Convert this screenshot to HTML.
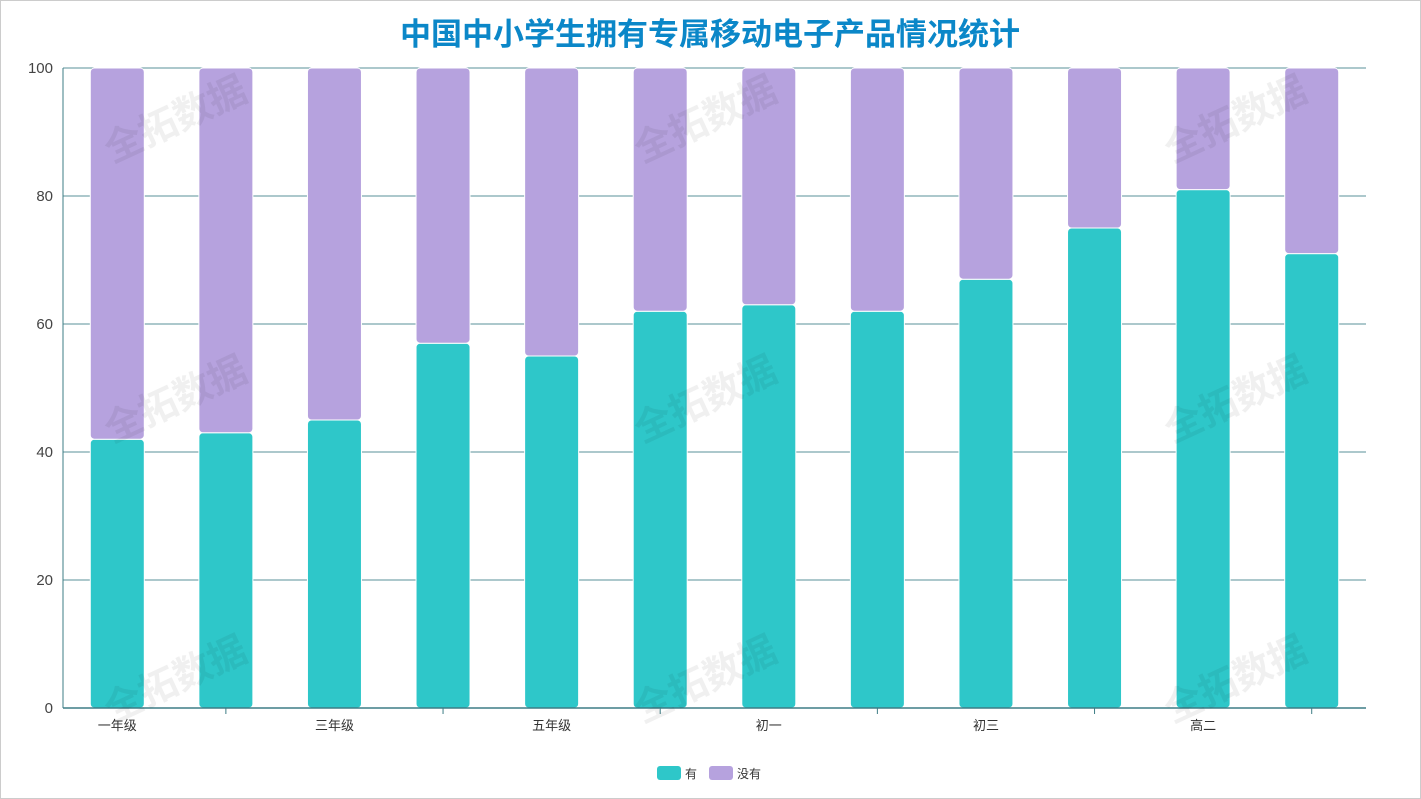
<!DOCTYPE html>
<html><head><meta charset="utf-8"><style>
body{margin:0;background:#fff;}
#wrap{position:relative;width:1419px;height:797px;border:1px solid #ccc;overflow:hidden;font-family:"Liberation Sans","Noto Sans CJK SC",sans-serif;}
</style></head><body>
<div id="wrap">
<svg id="chart" width="1419" height="797"></svg>
</div>
<script>
const categories=["一年级","二年级","三年级","四年级","五年级","六年级","初一","初二","初三","高一","高二","高三"];
const hasValues=[42,43,45,57,55,62,63,62,67,75,81,71];
const noValues=[58,57,55,43,45,38,37,38,33,25,19,29];
const yTicks=[0,20,40,60,80,100];
const seriesNames=["有","没有"];
const NS="http://www.w3.org/2000/svg";
const svg=document.getElementById('chart');
const L=62,R=1365,T=67,B=707;
const bw=(R-L)/categories.length;
const x=i=>L+bw*i;
const y=v=>B-(v/100)*(B-T);
function mk(tag,attrs,parent){const e=document.createElementNS(NS,tag);for(const k in attrs)e.setAttribute(k,attrs[k]);(parent||svg).appendChild(e);return e;}
const title=mk('text',{x:709,y:44,'text-anchor':'middle','font-size':31,'font-weight':'bold',fill:'#0b87c8','font-family':'"Liberation Sans","Noto Sans CJK SC",sans-serif'});
title.textContent='中国中小学生拥有专属移动电子产品情况统计';


yTicks.forEach(t=>{
 const g=mk('line',{x1:L,x2:R,y1:y(t),y2:y(t),stroke:'#5a9098','stroke-width':1});
 
 
 const tx=mk('text',{x:L-10,y:y(t)+5,'text-anchor':'end','font-size':15,fill:'#444'});
 tx.textContent=t;
 
 
});
const yax=mk('line',{x1:L,x2:L,y1:T,y2:B,stroke:'#3d7d85'});


categories.forEach((c,i)=>{
 const bx=x(i)+bw/2-27;
 const b1=mk('rect',{x:bx,y:y(hasValues[i]),width:54,height:y(0)-y(hasValues[i]),rx:4,fill:'#2ec7c9',stroke:'#fff','stroke-width':1});
 
 
 const top=hasValues[i]+noValues[i];
 const b2=mk('rect',{x:bx,y:y(top),width:54,height:y(hasValues[i])-y(top),rx:4,fill:'#b6a2de',stroke:'#fff','stroke-width':1});
 
 
 if(i%2===0){
  const lb=mk('text',{x:x(i)+bw/2,y:B+22,'text-anchor':'middle','font-size':13,fill:'#333'});
  lb.textContent=c;
  
  
 } else {
  const tk=mk('line',{x1:x(i)+bw/2,x2:x(i)+bw/2,y1:B,y2:B+6,stroke:'#3d7d85'});
  
  
 }
});
const xax=mk('line',{x1:L,x2:R,y1:B,y2:B,stroke:'#3d7d85','stroke-width':1.5});


[[180,130],[180,410],[180,690],[710,130],[710,410],[710,690],[1240,130],[1240,410],[1240,690]].forEach(p=>{
 const w=mk('text',{x:p[0],y:p[1],'text-anchor':'middle','font-size':38,'font-weight':'bold',fill:'#000','fill-opacity':0.06,transform:`rotate(-25 ${p[0]} ${p[1]})`});
 w.textContent='全拓数据';
 
 
});
const lg=[[656,'#2ec7c9',684],[708,'#b6a2de',736]];
lg.forEach((l,k)=>{
 const s=mk('rect',{x:l[0],y:765,width:24,height:14,rx:3,fill:l[1]});
 
 
 const t=mk('text',{x:l[2],y:777,'font-size':12,fill:'#333'});
 t.textContent=seriesNames[k];
 
 
});
</script>
</body></html>
